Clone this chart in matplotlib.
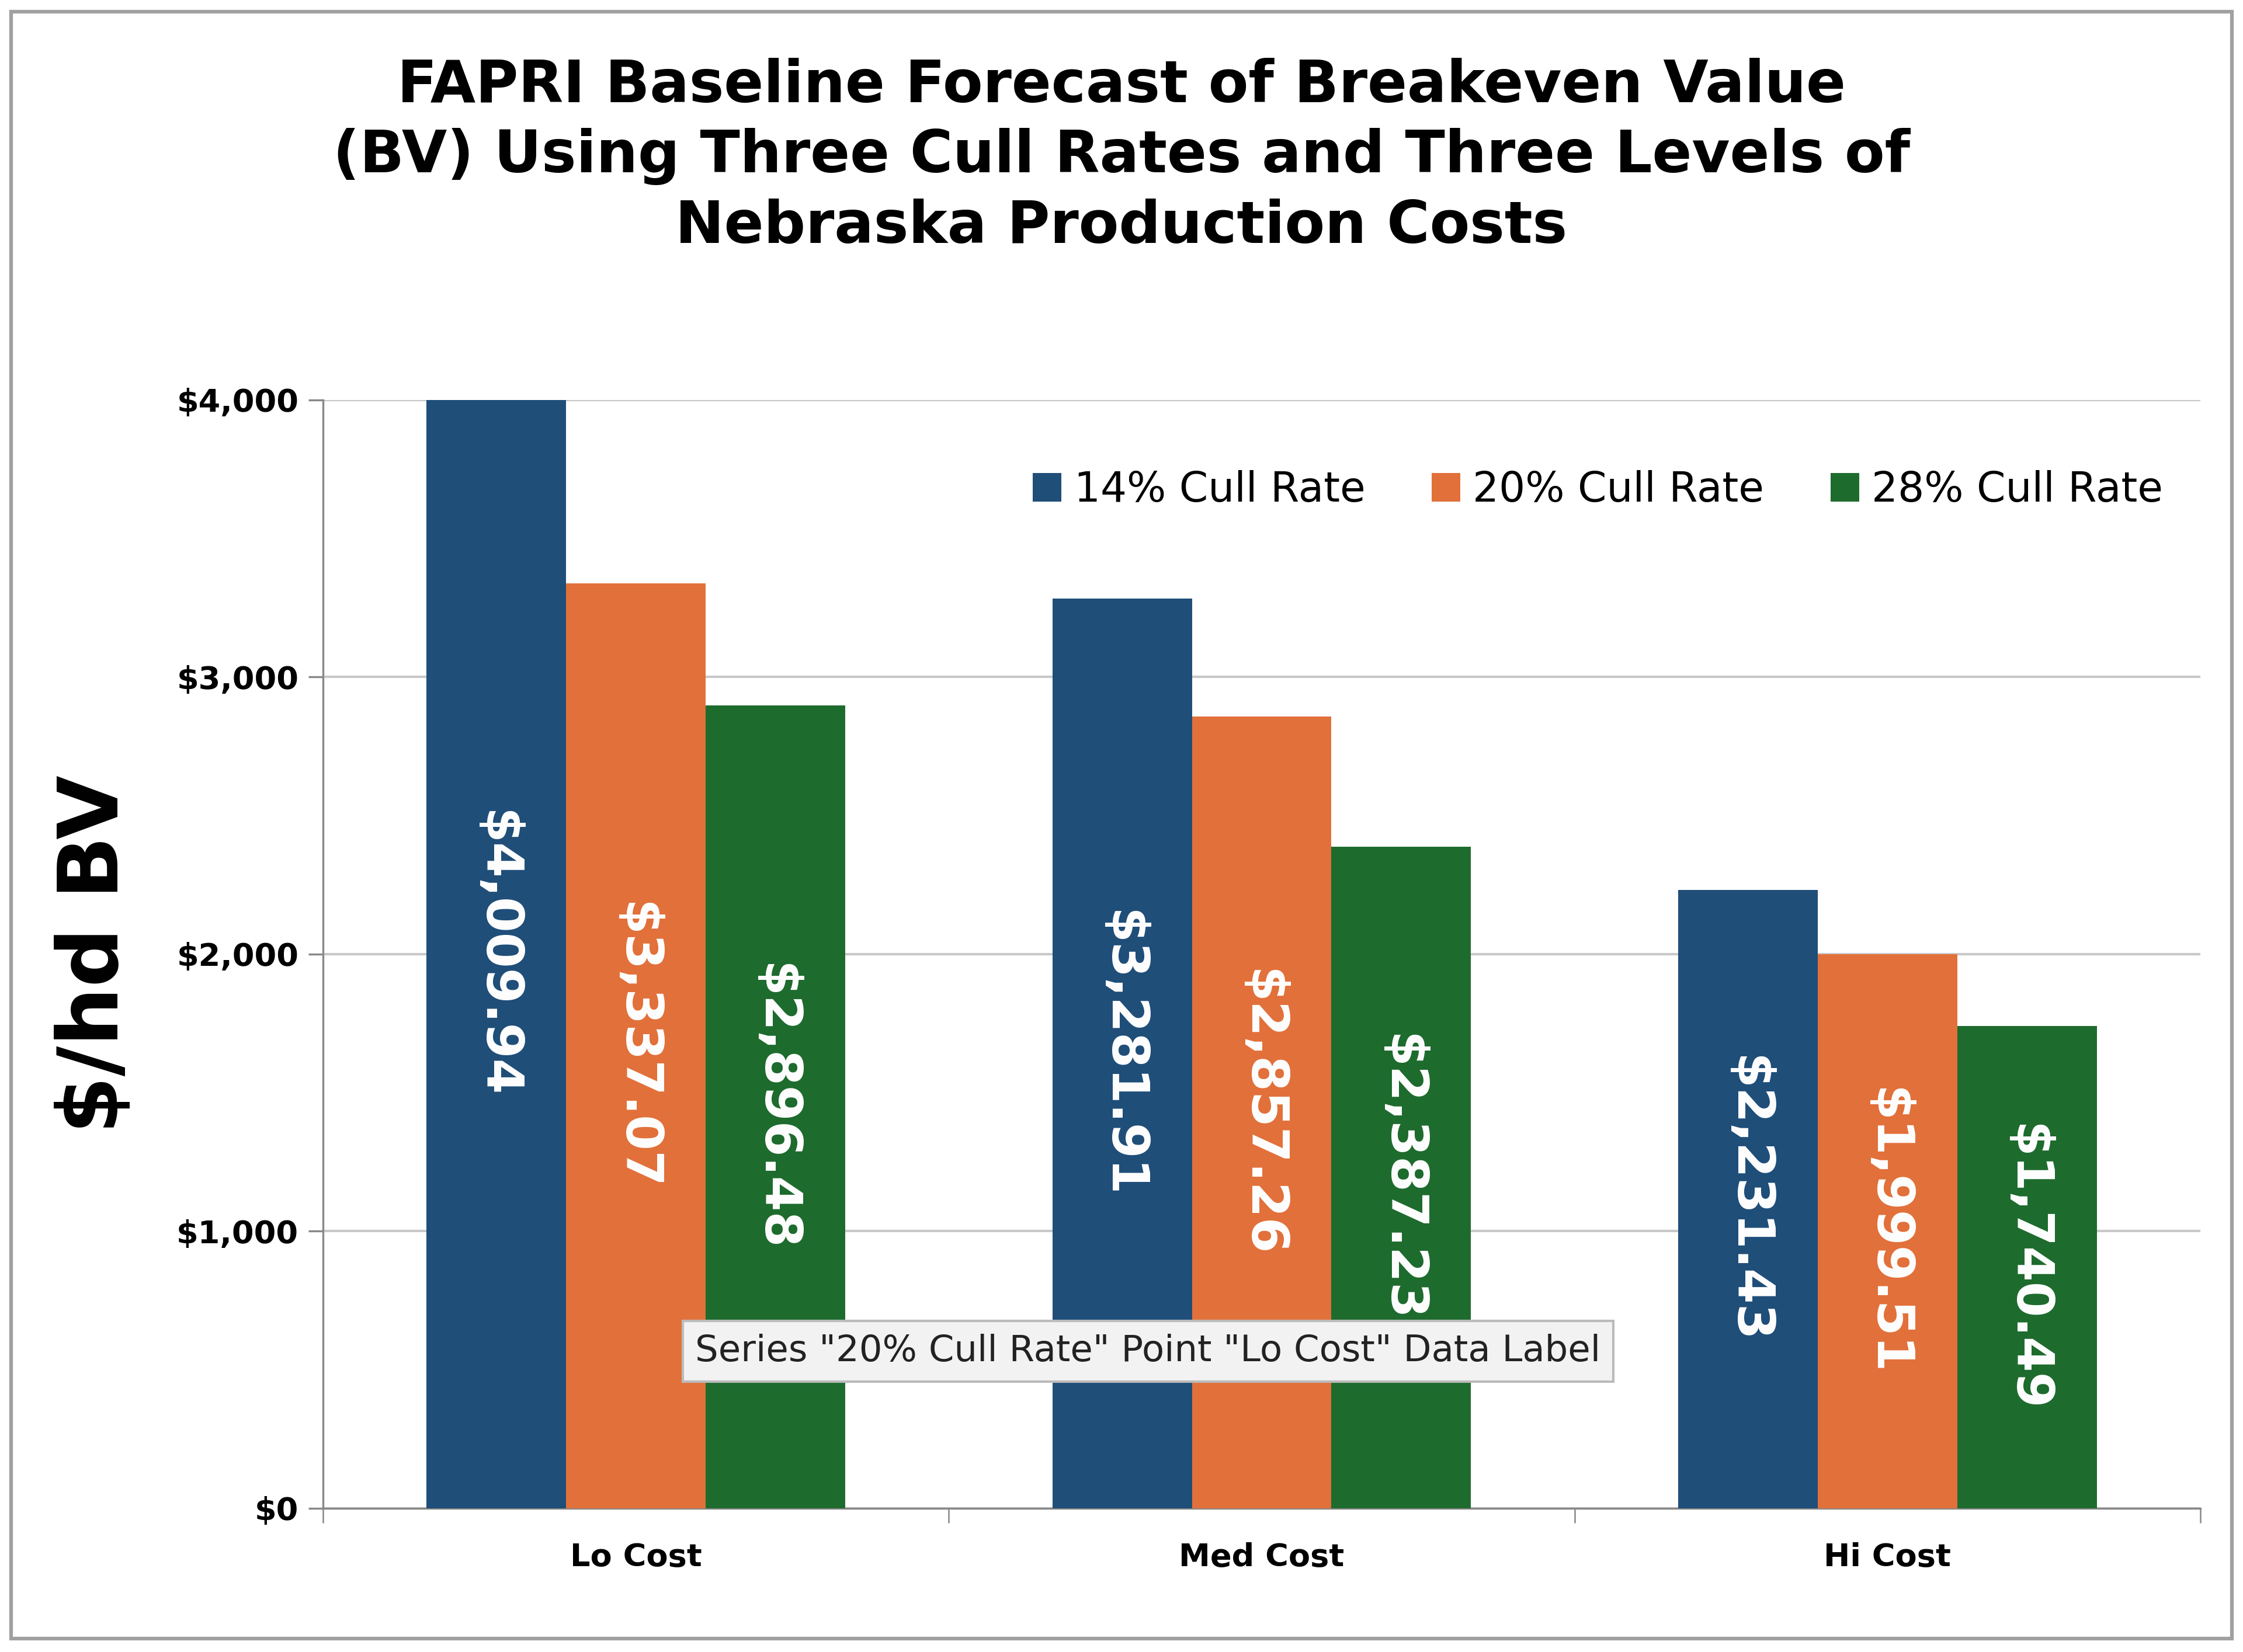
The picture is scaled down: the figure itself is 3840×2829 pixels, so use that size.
import matplotlib
matplotlib.use('Agg')
import matplotlib.pyplot as plt
import numpy as np
from matplotlib.patches import Rectangle

# data
categories = ['Lo Cost', 'Med Cost', 'Hi Cost']
series = ['14% Cull Rate', '20% Cull Rate', '28% Cull Rate']
cull14 = [4009.94, 3281.91, 2231.43]
cull20 = [3337.07, 2857.26, 1999.51]
cull28 = [2896.48, 2387.23, 1740.49]
colors = ['#1F4E79', '#E2703A', '#1E6B2E']

plt.rcParams['font.family'] = ['DejaVu Sans']

fig = plt.figure(figsize=(12.8, 9.43), dpi=300)
# outer frame
fig.patches.append(Rectangle((0.005, 0.008), 0.99, 0.985, transform=fig.transFigure,
                             fill=False, edgecolor='#A0A0A0', lw=1.5))
ax = fig.add_axes([0.144, 0.087, 0.837, 0.671])

x = np.arange(len(categories))
w = 0.223
for i, (vals, name) in enumerate(zip([cull14, cull20, cull28], series)):
    bars = ax.bar(x + (i - 1) * w, vals, w, color=colors[i], label=name, zorder=3)
    for b, v in zip(bars, vals):
        ax.text(b.get_x() + w / 2, min(v, 4000) / 2, '${:,.2f}'.format(v), rotation=-90,
                ha='center', va='center', color='white', fontsize=21, fontweight='bold',
                zorder=4)

ax.set_ylim(0, 4000)
ax.set_xlim(-0.5, 2.5)
ax.set_yticks([0, 1000, 2000, 3000, 4000])
ax.set_yticklabels(['${:,.0f}'.format(t) for t in ax.get_yticks()], fontsize=13, fontweight='bold')
ax.set_xticks(x)
ax.set_xticklabels(categories, fontsize=13, fontweight='bold')
ax.tick_params(axis='x', length=0, pad=14)
ax.set_xticks([-0.5, 0.5, 1.5, 2.5], minor=True)
ax.tick_params(axis='x', which='minor', length=6, color='#888888')
ax.tick_params(axis='y', length=6, color='#888888', pad=4)
ax.grid(axis='y', color='#C8C8C8', lw=1, zorder=0)
for s in ['top', 'right']:
    ax.spines[s].set_visible(False)
ax.spines['left'].set_color('#888888')
ax.spines['bottom'].set_color('#888888')
ax.set_ylabel('$/hd BV', fontsize=34, fontweight='bold', labelpad=2)
ax.yaxis.set_label_coords(-0.1, 0.5)

ax.legend(loc='upper right', bbox_to_anchor=(1.0, 0.97), ncol=3, frameon=False,
          fontsize=17, handlelength=0.7, handleheight=0.7, handletextpad=0.3, columnspacing=1.6)

fig.text(0.5, 0.965, 'FAPRI Baseline Forecast of Breakeven Value\n(BV) Using Three Cull Rates and Three Levels of\nNebraska Production Costs',
         ha='center', va='top', fontsize=24, fontweight='bold', linespacing=1.3)

# tooltip seen in the original screenshot
fig.text(0.31, 0.182, 'Series "20% Cull Rate" Point "Lo Cost" Data Label', fontsize=15,
         color='#222222', ha='left', va='center', zorder=10,
         bbox=dict(boxstyle='square,pad=0.35', facecolor='#F2F2F2', edgecolor='#BBBBBB'))

fig.savefig('out.png', dpi=300)
